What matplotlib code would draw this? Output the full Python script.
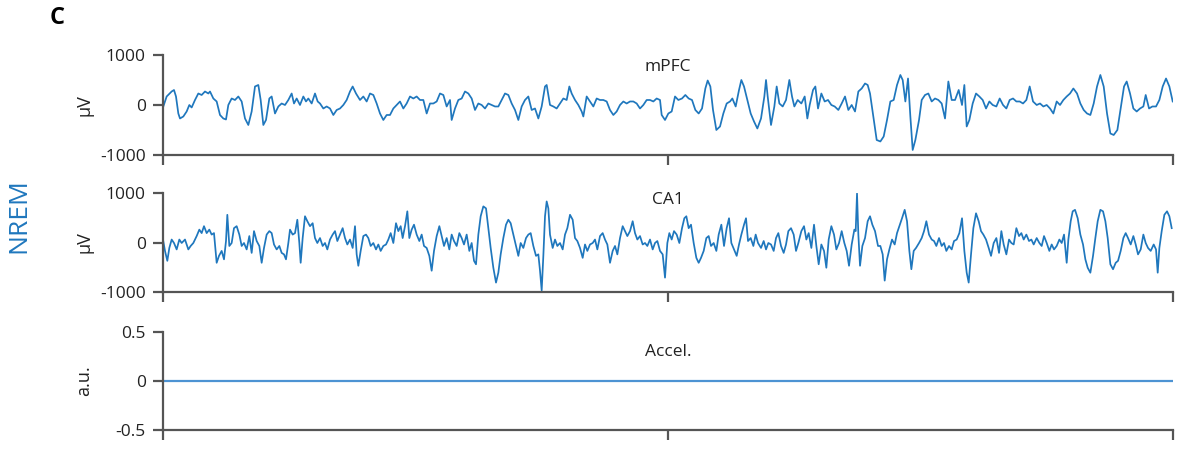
import numpy as np
import matplotlib.pyplot as plt

plt.rcParams['font.family'] = ['Open Sans', 'DejaVu Sans']

# sample index (record spans 0..3030) and amplitude in µV
mpfc_idx = [0, 11, 26, 33, 39, 46, 51, 61, 71, 79, 86, 96, 106, 116, 126, 136, 141, 151, 161, 171,
            181, 189, 196, 206, 216, 226, 236, 246, 256, 266, 276, 286, 293, 301, 309, 319, 326, 336, 346, 356,
            366, 376, 386, 393, 401, 411, 421, 429, 436, 446, 456, 464, 471, 481, 491, 501, 511, 521, 531, 541,
            551, 561, 569, 579, 591, 601, 611, 621, 631, 641, 651, 661, 671, 681, 691, 701, 711, 721, 731, 741,
            751, 761, 771, 781, 791, 801, 811, 821, 831, 841, 851, 861, 866, 876, 886, 896, 906, 916, 926, 936,
            946, 956, 966, 976, 986, 996, 1006, 1016, 1026, 1036, 1046, 1056, 1066, 1076, 1086, 1096, 1106, 1116, 1126, 1136,
            1146, 1151, 1161, 1171, 1181, 1191, 1201, 1211, 1219, 1226, 1236, 1246, 1256, 1261, 1271, 1281, 1291, 1301, 1311, 1321,
            1331, 1341, 1351, 1361, 1371, 1381, 1391, 1401, 1411, 1421, 1431, 1441, 1451, 1461, 1471, 1481, 1491, 1496, 1506, 1516,
            1526, 1536, 1546, 1557, 1567, 1577, 1587, 1597, 1607, 1617, 1627, 1634, 1642, 1650, 1660, 1671, 1681, 1691, 1701, 1708,
            1718, 1728, 1735, 1743, 1753, 1763, 1773, 1783, 1794, 1804, 1809, 1814, 1824, 1834, 1841, 1849, 1859, 1869, 1879, 1887,
            1894, 1904, 1915, 1925, 1933, 1940, 1950, 1957, 1965, 1975, 1985, 1995, 2005, 2015, 2026, 2036, 2046, 2056, 2066, 2076,
            2086, 2096, 2106, 2114, 2121, 2131, 2141, 2152, 2162, 2172, 2182, 2192, 2202, 2212, 2219, 2227, 2235, 2242, 2249, 2257,
            2268, 2276, 2286, 2296, 2306, 2316, 2326, 2336, 2346, 2356, 2366, 2376, 2387, 2397, 2404, 2411, 2419, 2429, 2439, 2449,
            2459, 2469, 2479, 2489, 2500, 2510, 2520, 2530, 2540, 2550, 2560, 2570, 2580, 2590, 2600, 2610, 2621, 2631, 2641, 2651,
            2661, 2671, 2681, 2691, 2701, 2711, 2721, 2731, 2742, 2752, 2762, 2772, 2782, 2792, 2802, 2812, 2822, 2832, 2842, 2852,
            2863, 2873, 2883, 2891, 2901, 2911, 2921, 2931, 2941, 2948, 2958, 2968, 2979, 2989, 2999, 3009, 3019, 3029]
mpfc_uv = [-50, 170, 270, 300, 170, -170, -270, -230, -130, 0, -50, 100, 230, 200, 270, 230, 270, 130, 70, -200,
           -270, -290, 0, 130, 100, 170, 70, -270, -400, -130, 370, 400, 100, -400, -300, 130, 170, -170, -30, 30,
           0, 100, 230, 30, 130, 0, 170, 70, 130, 30, 230, 70, 30, -70, -30, -70, -200, -100, -70, 0,
           100, 270, 370, 230, 100, 170, 70, 230, 200, 30, -170, -300, -200, -200, -70, 0, 70, -70, 30, 170,
           130, 170, 100, 100, -170, 30, 30, 70, 230, 200, -30, 100, -300, -70, 100, 130, 270, 230, 130, -100,
           30, 0, -70, 30, 0, -30, -30, 100, 230, 200, 30, -100, -300, -30, 100, 170, -100, -70, -270, -30,
           370, 400, 0, -30, -70, 30, 130, 100, 370, 230, 100, 0, -130, -230, 170, 70, -30, 130, 100, 100,
           70, -100, -200, -130, 0, 70, 30, 70, 70, 30, -70, 0, 100, 100, 70, 130, 100, -200, -300, -170,
           -130, 170, 100, 130, 200, 130, 100, -100, -170, -70, 330, 490, 370, -100, -500, -430, -170, 30, 70, 130,
           -30, 300, 500, 370, 100, -170, -330, -470, -270, 170, 500, 170, -400, -30, 370, 30, -30, 100, 500, 170,
           -30, 100, 30, 170, -270, 0, 300, 370, -70, 230, 70, 100, 0, -30, -100, 30, 170, -100, 0, -130,
           270, 330, 430, 400, 230, -230, -700, -730, -630, -300, 70, 100, 400, 600, 500, 70, 530, -230, -900, -700,
           -300, 100, 200, 230, 70, 130, 100, 30, -270, 470, 100, 100, 300, 0, 400, -430, -300, 30, 230, 170,
           100, -70, 70, 0, -30, 130, 0, -70, 100, 130, 70, 70, 30, 100, 370, 70, 0, 30, -30, 0,
           -70, -170, 70, 0, 100, 170, 230, 330, 230, 30, -100, -170, -200, 30, 370, 600, 370, -170, -570, -600,
           -500, -70, 370, 470, 230, -70, -130, -70, -30, 200, -70, -30, -30, 100, 370, 530, 370, 70]

ca1_idx = [0, 6, 13, 19, 26, 33, 41, 49, 56, 66, 76, 83, 91, 101, 109, 116, 123, 131, 139, 146,
           153, 161, 168, 176, 183, 189, 193, 199, 206, 213, 221, 229, 236, 243, 251, 259, 266, 273, 281, 289,
           296, 303, 311, 319, 326, 333, 341, 349, 356, 363, 369, 376, 381, 389, 396, 403, 409, 413, 419, 426,
           433, 441, 449, 456, 463, 471, 479, 486, 493, 501, 509, 516, 523, 531, 539, 546, 553, 561, 569, 576,
           581, 586, 593, 601, 609, 616, 623, 631, 639, 646, 653, 661, 669, 676, 683, 691, 699, 706, 713, 719,
           726, 733, 739, 746, 753, 761, 769, 776, 783, 791, 799, 806, 813, 821, 829, 836, 843, 851, 859, 866,
           873, 881, 889, 896, 903, 911, 919, 926, 933, 939, 946, 953, 961, 969, 976, 983, 991, 999, 1006, 1013,
           1021, 1029, 1036, 1043, 1051, 1059, 1066, 1073, 1081, 1089, 1096, 1103, 1111, 1119, 1126, 1131, 1136, 1141, 1146, 1151,
           1156, 1161, 1169, 1176, 1183, 1191, 1199, 1206, 1213, 1221, 1229, 1236, 1243, 1251, 1259, 1266, 1273, 1281, 1289, 1296,
           1303, 1311, 1319, 1326, 1333, 1341, 1349, 1356, 1363, 1371, 1379, 1386, 1393, 1401, 1409, 1416, 1423, 1431, 1439, 1446,
           1453, 1461, 1469, 1476, 1483, 1491, 1499, 1506, 1513, 1519,
           1526, 1533, 1541, 1549, 1557, 1564, 1570, 1577, 1584, 1592, 1600, 1607, 1614, 1622, 1630, 1637, 1644, 1652, 1660, 1667,
           1675, 1683, 1691, 1698, 1705, 1713, 1721, 1728, 1735, 1743, 1749, 1755, 1763, 1771, 1778, 1785, 1794, 1802, 1809, 1816,
           1824, 1832, 1839, 1846, 1854, 1862, 1869, 1876, 1884, 1892, 1899, 1906, 1915, 1923, 1930, 1937, 1945, 1953, 1960, 1967,
           1975, 1983, 1990, 1997, 2005, 2013, 2020, 2028, 2036, 2044, 2051, 2058, 2066, 2074, 2078, 2082, 2086, 2091, 2098, 2106,
           2114, 2121, 2128, 2136, 2145, 2152, 2159, 2165, 2172, 2179, 2187, 2195, 2202, 2209, 2217, 2225, 2232, 2239, 2245, 2252,
           2259, 2268, 2276, 2283, 2290, 2298, 2306, 2313, 2320, 2328, 2336, 2343, 2350, 2358, 2366, 2373, 2381, 2389, 2397, 2404,
           2411, 2417, 2424, 2431, 2439, 2447, 2454, 2461, 2469, 2477, 2484, 2492, 2500, 2508, 2515, 2522, 2530, 2538, 2545, 2552,
           2560, 2568, 2575, 2582, 2590, 2598, 2605, 2612, 2621, 2629, 2636, 2643, 2651, 2659, 2666, 2673, 2681, 2689, 2696, 2703,
           2711, 2716, 2723, 2729, 2736, 2744, 2752, 2760, 2767, 2774, 2782, 2790, 2797, 2804, 2812, 2820, 2827, 2834, 2842, 2850,
           2858, 2865, 2873, 2881, 2888, 2895, 2903, 2911, 2918, 2925, 2933, 2941, 2948, 2955, 2963, 2972, 2979, 2984, 2989, 2996,
           3004, 3012, 3019, 3026]
ca1_uv = [60, -170, -370, -110, 60, -10, -140, 60, -10, 60, -140, -70, -10, 130, 260, 190, 330, 190, 260, 160,
          190, -410, -270, -170, -340, 30, 560, -70, -10, 290, 330, 160, -70, -10, -140, 130, -210, 230, 30, -70,
          -410, -110, 160, 230, 190, -40, -140, -70, -210, -240, -340, -10, 260, 160, 190, 460, -10, -410, 90, 530,
          430, 330, 390, 90, -10, 90, -70, -10, -140, 60, 160, 230, 30, 160, 290, 90, -40, 60, -110, 330,
          -240, -470, -170, 130, 160, 90, -70, -10, -140, -40, -170, -70, -40, 60, 190, -10, 390, 230, 330, 90,
          330, 630, 90, 260, 360, 160, 30, 160, -70, -110, -270, -570, -170, 130, 330, 130, -70, 90, -140, 160,
          30, -70, 190, 90, -40, 160, -170, -10, -370, -440, 160, 530, 730, 690, 290, -110, -510, -810, -610, -240,
          90, 360, 460, 390, 160, -70, -270, -10, -110, 90, 160, 190, -70, -270, -240, -570, -970, -270, 530, 830,
          690, 160, -110, 60, -70, -10, -140, 160, 290, 560, 460, 90, 30, -110, -310, -40, -170, -40, -10, 60,
          -140, 130, 190, 60, -40, -410, -170, -70, -240, 90, 330, 230, 130, 230, 430, 190, 60, 130, -40, -10,
          -70, 60, -140, -10, 30, -170, -240, -710, -10, 190,
          60, 230, 160, -10, 290, 490, 530, 290, 360, -10, -310, -410, -310, -170, 90, 130, -70, -10, -170, 160,
          360, -70, 290, 490, -10, -140, -270, -40, 160, 360, 490, 30, 90, -70, 160, -10, -110, 30, -140, -10,
          -40, -170, 90, 190, -70, -210, -40, 230, 290, 160, -170, -10, 230, 330, 60, 190, -110, 360, -70, -440,
          -40, -170, -510, 60, 330, 160, -140, -10, 230, -10, -170, -470, -40, 260, 230, 990, 160, -470, -70, 90,
          430, 530, 360, 230, -70, -70, -240, -770, -340, -140, 60, -40, 190, 330, 490, 660, 430, -170, -540, -170,
          -110, -10, 90, 230, 430, 160, 60, 30, -70, 90, -70, -10, -170, -70, -140, 30, 60, 190, 490, -170,
          -610, -810, -240, 290, 590, 430, 230, 160, 60, -110, -270, -10, 90, -210, 230, -40, -240, 60, -10, -40,
          290, 130, 190, 60, 160, 30, 60, -40, 90, -10, -70, 130, -10, -170, -40, -140, -70, 60, -10, 160,
          -410, 60, 430, 630, 660, 490, 160, -40, -340, -510, -610, -270, 90, 430, 660, 630, 430, 90, -440, -540,
          -410, -370, -170, 90, 190, 90, -40, 130, -40, -240, -140, 160, -10, -110, -170, -40, -140, -610, -110, 230,
          560, 630, 530, 290]

accel_idx = [0, 3029]
accel_au = [0, 0]

panels = [
    ('mPFC', mpfc_idx, mpfc_uv, 'µV', (-1000, 1000), [-1000, 0, 1000], ['-1000', '0', '1000'], 0.88),
    ('CA1', ca1_idx, ca1_uv, 'µV', (-1000, 1000), [-1000, 0, 1000], ['-1000', '0', '1000'], 0.93),
    ('Accel.', accel_idx, accel_au, 'a.u.', (-0.5, 0.5), [-0.5, 0, 0.5], ['-0.5', '0', '0.5'], 0.80),
]

line_col = '#1f77bd'
spine_col = '#555555'
txt_col = '#222222'

fig = plt.figure(figsize=(11.88, 4.5), dpi=100)
bottoms = [0.6556, 0.3511, 0.0444]
heights = [0.2222, 0.22, 0.2178]

for i, ((name, x, y, unit, ylim, yt, ytl, ty), b, h) in enumerate(zip(panels, bottoms, heights)):
    ax = fig.add_axes([0.1372, b, 0.8502, h])
    if i < 2:
        ax.plot(x, y, color=line_col, lw=1.25)
    else:
        ax.plot(x, y, color='#4d93d3', lw=1.6)
    ax.set_xlim(0, 3030)
    ax.set_ylim(*ylim)
    ax.set_xticks([0, 1515, 3030])
    ax.set_xticklabels([])
    ax.set_yticks(yt)
    ax.set_yticklabels(ytl)
    for s in ['top', 'right']:
        ax.spines[s].set_visible(False)
    for s in ['left', 'bottom']:
        ax.spines[s].set_color(spine_col)
        ax.spines[s].set_linewidth(1.6)
    ax.tick_params(direction='out', length=7.5, width=1.6, color=spine_col,
                   labelsize=12.5, labelcolor=txt_col, pad=5)
    ax.set_ylabel(unit, fontsize=13, color=txt_col)
    ax.yaxis.set_label_coords(-0.069, 0.5)
    ax.text(0.5, ty, name, transform=ax.transAxes, ha='center', va='center',
            fontsize=12.5, color=txt_col)
    ax.patch.set_visible(False)

fig.text(0.042, 0.96, 'C', fontsize=17, fontweight='bold', ha='left', va='center')
fig.text(0.016, 0.52, 'NREM', fontsize=19, color='#1f77bd', rotation=90,
         ha='center', va='center')

fig.savefig('out.png', dpi=100)
